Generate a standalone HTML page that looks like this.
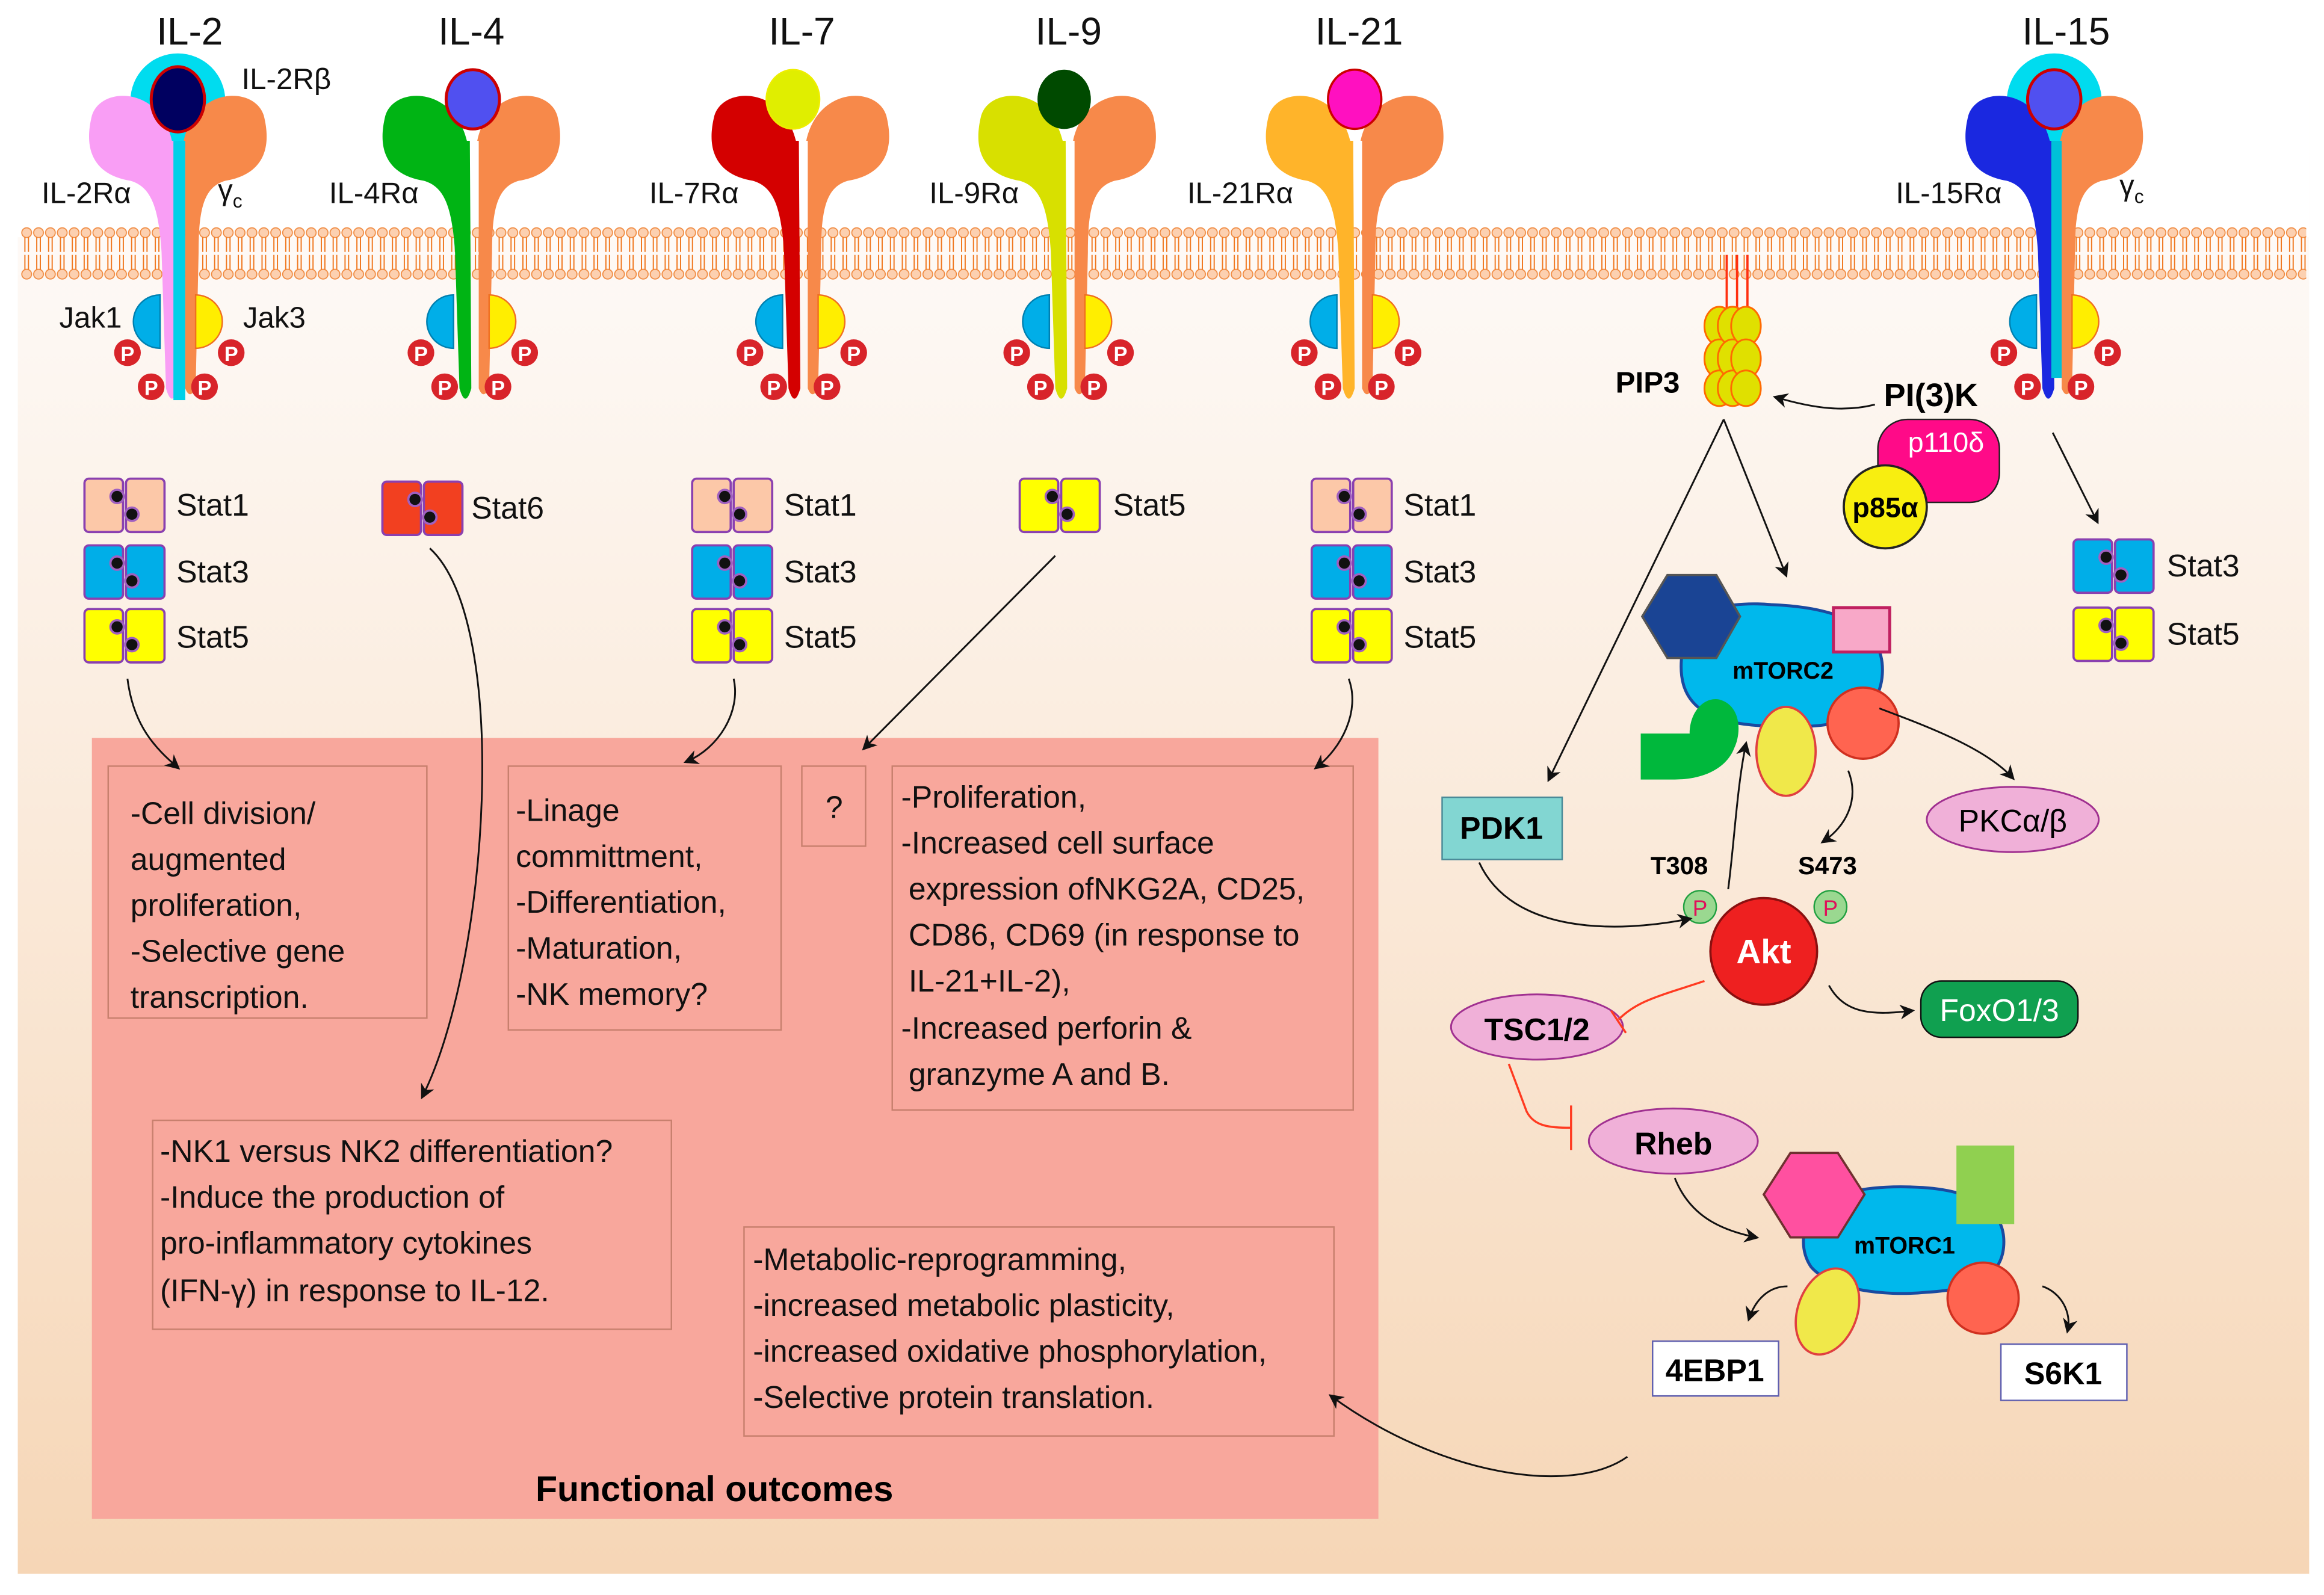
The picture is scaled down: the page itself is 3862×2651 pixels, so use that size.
<!DOCTYPE html>
<html><head><meta charset="utf-8"><style>
html,body{margin:0;padding:0;background:#fff;}
svg{display:block;}
text{font-family:"Liberation Sans",sans-serif;}
</style></head><body>
<svg width="3862" height="2651" viewBox="0 0 1568 1076.3" xmlns="http://www.w3.org/2000/svg">
<defs>
<linearGradient id="bg" x1="0" y1="0" x2="0" y2="1">
<stop offset="0" stop-color="#ffffff"/><stop offset="0.22" stop-color="#fdf7f2"/><stop offset="1" stop-color="#f6d6b6"/>
</linearGradient>
<pattern id="mem" x="14" y="152" width="8" height="38" patternUnits="userSpaceOnUse">
<circle cx="4" cy="5" r="3.3" fill="#fcd0b0" stroke="#f08a40" stroke-width="0.7"/>
<circle cx="4" cy="33" r="3.3" fill="#fcd0b0" stroke="#f08a40" stroke-width="0.7"/>
<line x1="2.8" y1="8" x2="2.8" y2="18" stroke="#f07820" stroke-width="0.8"/>
<line x1="5.2" y1="8" x2="5.2" y2="18" stroke="#f07820" stroke-width="0.8"/>
<line x1="2.8" y1="20" x2="2.8" y2="30" stroke="#f07820" stroke-width="0.8"/>
<line x1="5.2" y1="20" x2="5.2" y2="30" stroke="#f07820" stroke-width="0.8"/>
</pattern>
<marker id="ar" markerWidth="10" markerHeight="10" refX="8" refY="5" orient="auto" markerUnits="userSpaceOnUse">
<path d="M0,0 L10,5 L0,10 L3,5 Z" fill="#111"/>
</marker>
<g id="stat">
<rect x="0" y="0" width="26" height="36" rx="3" fill="inherit" stroke="#8a40b0" stroke-width="1.5"/>
<rect x="28" y="0" width="26" height="36" rx="3" fill="inherit" stroke="#8a40b0" stroke-width="1.5"/>
<circle cx="22" cy="12" r="4.5" fill="#111" stroke="#a060c0" stroke-width="1.5"/>
<circle cx="32" cy="24" r="4.5" fill="#111" stroke="#a060c0" stroke-width="1.5"/>
</g>
<g id="p">
<circle r="9" fill="#d8242a"/><text y="5.5" text-anchor="middle" font-size="14" font-weight="bold" fill="#fff">P</text>
</g>
<g id="jaks">
<path d="M-12,199 A18,18 0 0 0 -12,235 Z" fill="#00aee8" stroke="#0080b0" stroke-width="1"/>
<path d="M12,199 A18,18 0 0 1 12,235 Z" fill="#ffee00" stroke="#f07020" stroke-width="1"/>
<use href="#p" x="-34" y="238"/><use href="#p" x="36" y="238"/>
<use href="#p" x="-18" y="261"/><use href="#p" x="18" y="261"/>
</g>
</defs>

<rect x="12" y="0" width="1546" height="1062" fill="url(#bg)"/>
<rect x="12" y="0" width="1546" height="160" fill="#fff"/>

<!-- membrane -->
<rect x="14" y="152" width="1542" height="38" fill="url(#mem)"/>

<!-- IL-2 -->
<g transform="translate(120,0)">
<circle cx="0" cy="68" r="32" fill="#00dcef"/>
<path d="M-4,95 C-12,58 -52,58 -58,78 C-64,102 -56,118 -32,122 C-18,126 -13,140 -11,170 L-8,262 Q-4,276 0,262 L0,95Z" fill="#f99ef5"/>
<rect x="-3" y="95" width="8" height="175" fill="#00d0e8"/>
<path d="M4,95 C12,58 52,58 58,78 C64,102 56,118 32,122 C18,126 14,140 14,170 L12,262 Q8,270 5,262 L5,95Z" fill="#f7894a"/>
<ellipse cx="0" cy="67" rx="18" ry="22" fill="#000060" stroke="#c00" stroke-width="2"/>
<use href="#jaks"/>
</g>
<!-- IL-4 -->
<g transform="translate(318,0)">
<path d="M-3,95 C-12,58 -52,58 -58,78 C-64,102 -56,118 -32,122 C-18,126 -13,140 -11,170 L-8,262 Q-4,276 0,262 L-1,95Z" fill="#00b414"/>
<path d="M4,95 C12,58 52,58 58,78 C64,102 56,118 32,122 C18,126 14,140 14,170 L12,262 Q8,270 5,262 L5,95Z" fill="#f7894a"/>
<ellipse cx="1" cy="67" rx="18" ry="20" fill="#5050f0" stroke="#c00" stroke-width="2"/>
<use href="#jaks"/>
</g>
<!-- IL-7 -->
<g transform="translate(540,0)">
<path d="M-3,95 C-12,58 -52,58 -58,78 C-64,102 -56,118 -32,122 C-18,126 -13,140 -11,170 L-8,262 Q-4,276 0,262 L-1,95Z" fill="#d40000"/>
<path d="M4,95 C12,58 52,58 58,78 C64,102 56,118 32,122 C18,126 14,140 14,170 L12,262 Q8,270 5,262 L5,95Z" fill="#f7894a"/>
<ellipse cx="-5" cy="67" rx="18" ry="20" fill="#e0ee00" stroke="#ee0" stroke-width="1"/>
<use href="#jaks"/>
</g>
<!-- IL-9 -->
<g transform="translate(720,0)">
<path d="M-3,95 C-12,58 -52,58 -58,78 C-64,102 -56,118 -32,122 C-18,126 -13,140 -11,170 L-8,262 Q-4,276 0,262 L-1,95Z" fill="#d8e000"/>
<path d="M4,95 C12,58 52,58 58,78 C64,102 56,118 32,122 C18,126 14,140 14,170 L12,262 Q8,270 5,262 L5,95Z" fill="#f7894a"/>
<ellipse cx="-2" cy="67" rx="18" ry="20" fill="#004a00"/>
<use href="#jaks"/>
</g>
<!-- IL-21 -->
<g transform="translate(914,0)">
<path d="M-3,95 C-12,58 -52,58 -58,78 C-64,102 -56,118 -32,122 C-18,126 -13,140 -11,170 L-8,262 Q-4,276 0,262 L-1,95Z" fill="#ffb42a"/>
<path d="M4,95 C12,58 52,58 58,78 C64,102 56,118 32,122 C18,126 14,140 14,170 L12,262 Q8,270 5,262 L5,95Z" fill="#f7894a"/>
<ellipse cx="0" cy="67" rx="18" ry="20" fill="#ff10c0" stroke="#c00" stroke-width="1.5"/>
<use href="#jaks"/>
</g>
<!-- IL-15 -->
<g transform="translate(1386,0)">
<circle cx="0" cy="68" r="32" fill="#00dcef"/>
<path d="M-3,95 C-12,58 -52,58 -58,78 C-64,102 -56,118 -32,122 C-18,126 -13,140 -11,170 L-8,262 Q-4,276 0,262 L-1,95Z" fill="#1a28e0"/>
<rect x="-2" y="95" width="7" height="160" fill="#00c0d8"/>
<path d="M4,95 C12,58 52,58 58,78 C64,102 56,118 32,122 C18,126 14,140 14,170 L12,262 Q8,270 5,262 L5,95Z" fill="#f7894a"/>
<ellipse cx="0" cy="67" rx="18" ry="20" fill="#5050f0" stroke="#c00" stroke-width="2"/>
<use href="#jaks"/>
</g>

<!-- receptor labels -->
<g font-size="26" fill="#111" text-anchor="middle">
<text x="128" y="30">IL-2</text><text x="318" y="30">IL-4</text><text x="541" y="30">IL-7</text>
<text x="721" y="30">IL-9</text><text x="917" y="30">IL-21</text><text x="1394" y="30">IL-15</text>
</g>
<g font-size="20" fill="#111">
<text x="163" y="60">IL-2Rβ</text>
<text x="28" y="137">IL-2Rα</text><text x="147" y="135">γ</text><text x="157" y="140" font-size="13">c</text>
<text x="222" y="137">IL-4Rα</text><text x="438" y="137">IL-7Rα</text><text x="627" y="137">IL-9Rα</text>
<text x="801" y="137">IL-21Rα</text><text x="1279" y="137">IL-15Rα</text>
<text x="1430" y="132">γ</text><text x="1440" y="137" font-size="13">c</text>
<text x="40" y="221">Jak1</text><text x="164" y="221">Jak3</text>
</g>

<!-- PIP3 -->
<g stroke="#ff3010" stroke-width="1.5">
<line x1="1165" y1="172" x2="1165" y2="215"/><line x1="1172" y1="172" x2="1172" y2="215"/><line x1="1179" y1="172" x2="1179" y2="215"/>
</g>
<g fill="#e0e000" stroke="#ff6a00" stroke-width="1.2">
<ellipse cx="1160" cy="220" rx="10" ry="13"/><ellipse cx="1160" cy="242" rx="10" ry="13"/><ellipse cx="1160" cy="262" rx="10" ry="12"/>
<ellipse cx="1169" cy="220" rx="10" ry="13"/><ellipse cx="1169" cy="242" rx="10" ry="13"/><ellipse cx="1169" cy="262" rx="10" ry="12"/>
<ellipse cx="1178" cy="220" rx="10" ry="13"/><ellipse cx="1178" cy="242" rx="10" ry="13"/><ellipse cx="1178" cy="262" rx="10" ry="12"/>
</g>
<text x="1090" y="265" font-size="20" font-weight="bold">PIP3</text>
<text x="1271" y="274" font-size="22" font-weight="bold">PI(3)K</text>
<rect x="1267" y="283" width="82" height="56" rx="20" fill="#ff0a88" stroke="#222" stroke-width="1"/>
<text x="1313" y="305" font-size="19" fill="#fff" text-anchor="middle">p110δ</text>
<circle cx="1272" cy="342" r="28" fill="#f8ee10" stroke="#222" stroke-width="1.5"/>
<text x="1272" y="349" font-size="19" font-weight="bold" text-anchor="middle">p85α</text>

<!-- Stats -->
<g font-size="21" fill="#111">
<use href="#stat" x="57" y="323" fill="#fcc8a8"/><text x="119" y="348">Stat1</text>
<use href="#stat" x="57" y="368" fill="#00aee8"/><text x="119" y="393">Stat3</text>
<use href="#stat" x="57" y="411" fill="#ffff00"/><text x="119" y="437">Stat5</text>
<use href="#stat" x="258" y="325" fill="#f24020"/><text x="318" y="350">Stat6</text>
<use href="#stat" x="467" y="323" fill="#fcc8a8"/><text x="529" y="348">Stat1</text>
<use href="#stat" x="467" y="368" fill="#00aee8"/><text x="529" y="393">Stat3</text>
<use href="#stat" x="467" y="411" fill="#ffff00"/><text x="529" y="437">Stat5</text>
<use href="#stat" x="688" y="323" fill="#ffff00"/><text x="751" y="348">Stat5</text>
<use href="#stat" x="885" y="323" fill="#fcc8a8"/><text x="947" y="348">Stat1</text>
<use href="#stat" x="885" y="368" fill="#00aee8"/><text x="947" y="393">Stat3</text>
<use href="#stat" x="885" y="411" fill="#ffff00"/><text x="947" y="437">Stat5</text>
<use href="#stat" x="1399" y="364" fill="#00aee8"/><text x="1462" y="389">Stat3</text>
<use href="#stat" x="1399" y="410" fill="#ffff00"/><text x="1462" y="435">Stat5</text>
</g>

<!-- Functional outcomes -->
<rect x="62" y="498" width="868" height="527" fill="#f8a79c"/>
<g fill="none" stroke="#c8806e" stroke-width="1">
<rect x="73" y="517" width="215" height="170"/>
<rect x="343" y="517" width="184" height="178"/>
<rect x="541" y="517" width="43" height="54"/>
<rect x="602" y="517" width="311" height="232"/>
<rect x="103" y="756" width="350" height="141"/>
<rect x="502" y="828" width="398" height="141"/>
</g>
<g font-size="21" fill="#111">
<text x="88" y="556">-Cell division/</text><text x="88" y="587">augmented</text><text x="88" y="618">proliferation,</text><text x="88" y="649">-Selective gene</text><text x="88" y="680">transcription.</text>
<text x="348" y="554">-Linage</text><text x="348" y="585">committment,</text><text x="348" y="616">-Differentiation,</text><text x="348" y="647">-Maturation,</text><text x="348" y="678">-NK memory?</text>
<text x="557" y="552">?</text>
<text x="608" y="545">-Proliferation,</text><text x="608" y="576">-Increased cell surface</text><text x="613" y="607">expression ofNKG2A, CD25,</text><text x="613" y="638">CD86, CD69 (in response to</text><text x="613" y="669">IL-21+IL-2),</text><text x="608" y="701">-Increased perforin &amp;</text><text x="613" y="732">granzyme A and B.</text>
<text x="108" y="784">-NK1 versus NK2 differentiation?</text><text x="108" y="815">-Induce the production of</text><text x="108" y="846">pro-inflammatory cytokines</text><text x="108" y="878">(IFN-γ) in response to IL-12.</text>
<text x="508" y="857">-Metabolic-reprogramming,</text><text x="508" y="888">-increased metabolic plasticity,</text><text x="508" y="919">-increased oxidative phosphorylation,</text><text x="508" y="950">-Selective protein translation.</text>
</g>
<text x="482" y="1013" font-size="24" font-weight="bold" text-anchor="middle">Functional outcomes</text>

<!-- mTORC2 -->
<path d="M1135,440 C1130,415 1160,405 1195,408 C1245,410 1272,425 1270,455 C1268,485 1240,492 1200,490 C1150,490 1130,475 1135,440Z" fill="#00b8ec" stroke="#1a4aa0" stroke-width="2"/>
<polygon points="1125,388 1158,388 1174,416 1158,444 1125,444 1108,416" fill="#1a4494" stroke="#555" stroke-width="1.5"/>
<rect x="1237" y="410" width="38" height="30" fill="#f8a8c8" stroke="#c02060" stroke-width="2"/>
<text x="1203" y="458" font-size="16" font-weight="bold" text-anchor="middle">mTORC2</text>
<path d="M1107,495 L1140,495 C1140,480 1150,470 1160,472 C1175,476 1175,495 1170,505 C1165,518 1150,526 1130,526 L1107,526Z" fill="#00b83c"/>
<ellipse cx="1205" cy="507" rx="20" ry="30" fill="#f0e84a" stroke="#e04040" stroke-width="1.5"/>
<circle cx="1257" cy="488" r="24" fill="#ff6450" stroke="#d03020" stroke-width="1.5"/>

<!-- right nodes -->
<rect x="973" y="538" width="81" height="42" fill="#82d6d2" stroke="#4a8a98" stroke-width="1"/>
<text x="1013" y="566" font-size="21" font-weight="bold" text-anchor="middle">PDK1</text>
<ellipse cx="1358" cy="553" rx="58" ry="22" fill="#f0b0d8" stroke="#a03090" stroke-width="1.2"/>
<text x="1358" y="561" font-size="21" text-anchor="middle">PKCα/β</text>
<text x="1133" y="590" font-size="17" font-weight="bold" text-anchor="middle">T308</text>
<text x="1233" y="590" font-size="17" font-weight="bold" text-anchor="middle">S473</text>
<circle cx="1147" cy="612" r="11" fill="#9ad890" stroke="#20a040" stroke-width="1"/>
<text x="1147" y="618" font-size="15" fill="#e0105a" text-anchor="middle">P</text>
<circle cx="1235" cy="612" r="11" fill="#9ad890" stroke="#20a040" stroke-width="1"/>
<text x="1235" y="618" font-size="15" fill="#e0105a" text-anchor="middle">P</text>
<circle cx="1190" cy="642" r="36" fill="#ee2020" stroke="#8a1010" stroke-width="1.5"/>
<text x="1190" y="650" font-size="23" font-weight="bold" fill="#fff" text-anchor="middle">Akt</text>
<ellipse cx="1037" cy="693" rx="58" ry="22" fill="#f0b0d8" stroke="#a03090" stroke-width="1.2"/>
<text x="1037" y="702" font-size="21" font-weight="bold" text-anchor="middle">TSC1/2</text>
<rect x="1296" y="662" width="106" height="38" rx="14" fill="#10a050" stroke="#111" stroke-width="1"/>
<text x="1349" y="689" font-size="21" fill="#fff" text-anchor="middle">FoxO1/3</text>
<ellipse cx="1129" cy="770" rx="57" ry="22" fill="#f0b0d8" stroke="#a03090" stroke-width="1.2"/>
<text x="1129" y="779" font-size="21" font-weight="bold" text-anchor="middle">Rheb</text>

<!-- mTORC1 -->
<path d="M1222,820 C1230,805 1260,800 1290,801 C1330,802 1352,815 1352,838 C1352,860 1335,870 1300,872 C1270,875 1235,870 1222,855 C1215,845 1215,830 1222,820Z" fill="#00b8ec" stroke="#1a4aa0" stroke-width="2"/>
<polygon points="1208,778 1240,778 1258,806 1240,835 1208,835 1190,806" fill="#ff50a0" stroke="#703030" stroke-width="1.5"/>
<rect x="1320" y="773" width="39" height="53" fill="#90d050"/>
<text x="1285" y="846" font-size="16" font-weight="bold" text-anchor="middle">mTORC1</text>
<ellipse cx="1233" cy="885" rx="20" ry="30" transform="rotate(20 1233 885)" fill="#f0e84a" stroke="#e04040" stroke-width="1.5"/>
<circle cx="1338" cy="876" r="24" fill="#ff6450" stroke="#d03020" stroke-width="1.5"/>
<rect x="1115" y="905" width="85" height="37" fill="#fff" stroke="#6060b0" stroke-width="1"/>
<text x="1157" y="932" font-size="21" font-weight="bold" text-anchor="middle">4EBP1</text>
<rect x="1350" y="907" width="85" height="38" fill="#fff" stroke="#6060b0" stroke-width="1"/>
<text x="1392" y="934" font-size="21" font-weight="bold" text-anchor="middle">S6K1</text>

<!-- arrows -->
<g fill="none" stroke="#111" stroke-width="1.2" marker-end="url(#ar)">
<path d="M86,458 C90,490 105,505 120,518"/>
<path d="M290,370 C345,420 330,650 285,740"/>
<path d="M495,458 C500,480 485,505 463,514"/>
<path d="M712,375 L583,505"/>
<path d="M910,458 C918,480 905,505 888,518"/>
<path d="M1385,292 L1415,352"/>
<path d="M1265,273 C1245,278 1225,276 1198,268"/>
<path d="M1163,283 L1045,526"/>
<path d="M1163,283 L1205,388"/>
<path d="M1268,478 C1300,490 1340,505 1358,525"/>
<path d="M1247,520 C1255,540 1245,558 1230,568"/>
<path d="M1166,600 C1170,570 1172,530 1178,502"/>
<path d="M998,582 C1020,630 1090,630 1140,620"/>
<path d="M1234,665 C1245,685 1265,685 1290,682"/>
<path d="M1130,795 C1140,820 1160,830 1185,835"/>
<path d="M1206,868 C1195,868 1185,875 1180,890"/>
<path d="M1378,868 C1390,872 1398,885 1395,898"/>
<path d="M1098,983 C1060,1010 970,995 898,942"/>
</g>
<g fill="none" stroke="#ff3a20" stroke-width="1.4">
<path d="M1150,662 C1120,672 1105,675 1092,688"/>
<line x1="1087" y1="682" x2="1097" y2="697"/>
<path d="M1018,718 L1030,750 C1035,760 1045,761 1060,761"/>
<line x1="1060" y1="746" x2="1060" y2="776"/>
</g>
</svg>
</body></html>
